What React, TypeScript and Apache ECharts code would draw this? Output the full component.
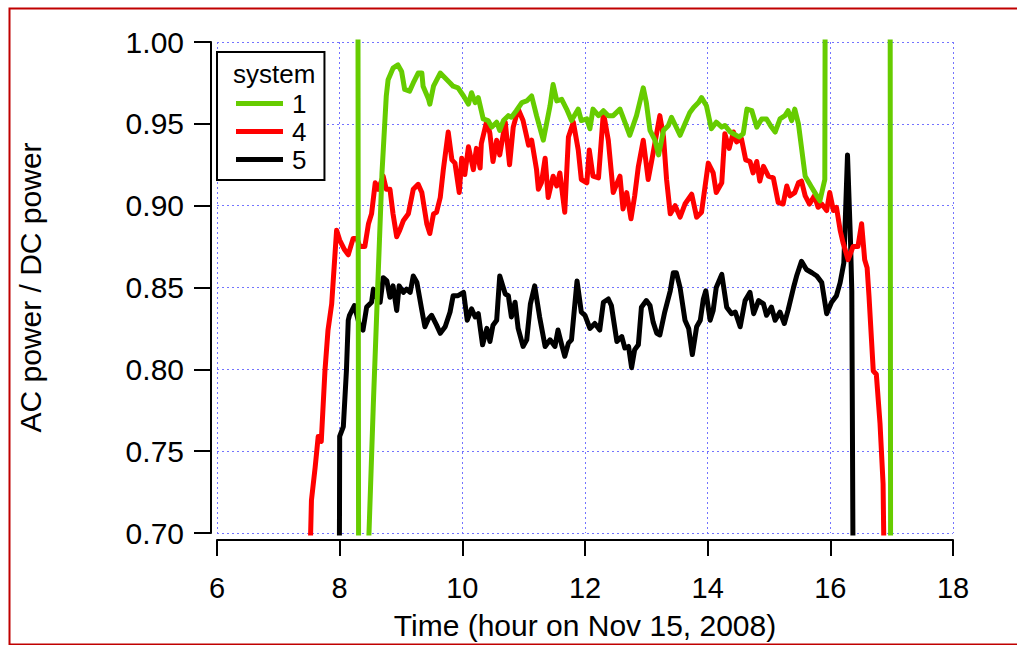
import React, { useEffect, useRef } from "react";
import * as echarts from "echarts";

const xTicks = [6, 8, 10, 12, 14, 16, 18];
const yTicks = [0.7, 0.75, 0.8, 0.85, 0.9, 0.95, 1.0];
const seriesNames = ["1", "4", "5"];
const seriesColors = ["#66cc00", "#ff0000", "#000000"];

// system 1: [hour, AC/DC]
const system1: number[][] = [
  [8.29, 1.3], [8.32, 0.3], [8.46, 0.68], [8.55, 0.78], [8.63, 0.86], [8.69, 0.92], [8.76, 0.967],
  [8.79, 0.977], [8.87, 0.984], [8.95, 0.986], [9.01, 0.982], [9.06, 0.971], [9.14, 0.970],
  [9.20, 0.975], [9.28, 0.981], [9.34, 0.981], [9.36, 0.973], [9.45, 0.965], [9.47, 0.962],
  [9.53, 0.973], [9.64, 0.981], [9.72, 0.978], [9.80, 0.975], [9.85, 0.973], [9.93, 0.972],
  [10.02, 0.967], [10.10, 0.962], [10.15, 0.969], [10.21, 0.963], [10.26, 0.966], [10.34, 0.953],
  [10.42, 0.952], [10.48, 0.948], [10.56, 0.951], [10.61, 0.946], [10.67, 0.952], [10.75, 0.955],
  [10.80, 0.954], [10.88, 0.958], [10.97, 0.963], [11.05, 0.964], [11.13, 0.967], [11.21, 0.955],
  [11.32, 0.940], [11.43, 0.961], [11.48, 0.974], [11.54, 0.964], [11.62, 0.965], [11.70, 0.959],
  [11.78, 0.952], [11.89, 0.959], [11.94, 0.952], [12.03, 0.953], [12.08, 0.947], [12.13, 0.959],
  [12.22, 0.955], [12.30, 0.958], [12.38, 0.955], [12.46, 0.955], [12.57, 0.959], [12.65, 0.951],
  [12.73, 0.943], [12.84, 0.955], [12.95, 0.972], [13.00, 0.963], [13.06, 0.946], [13.14, 0.940],
  [13.20, 0.931], [13.28, 0.946], [13.36, 0.949], [13.41, 0.954], [13.55, 0.943], [13.63, 0.950],
  [13.71, 0.957], [13.77, 0.960], [13.85, 0.963], [13.90, 0.966], [13.98, 0.961], [14.06, 0.947],
  [14.14, 0.951], [14.23, 0.948], [14.28, 0.949], [14.37, 0.945], [14.51, 0.942], [14.58, 0.944],
  [14.64, 0.959], [14.72, 0.958], [14.80, 0.948], [14.88, 0.953], [14.96, 0.953], [15.04, 0.948],
  [15.10, 0.945], [15.18, 0.953], [15.26, 0.955], [15.31, 0.958], [15.37, 0.952], [15.42, 0.959],
  [15.48, 0.950], [15.59, 0.918], [15.70, 0.911], [15.78, 0.906], [15.83, 0.903], [15.91, 0.916],
  [15.93, 1.3], [16.97, 1.3], [16.99, 0.3],
];

// system 4
const system4: number[][] = [
  [7.50, 0.66], [7.54, 0.72], [7.60, 0.74], [7.65, 0.759], [7.70, 0.756], [7.76, 0.799], [7.81, 0.824],
  [7.87, 0.840], [7.90, 0.857], [7.95, 0.885], [8.00, 0.879], [8.08, 0.873], [8.14, 0.870],
  [8.22, 0.880], [8.28, 0.880], [8.33, 0.875], [8.41, 0.875], [8.47, 0.889], [8.52, 0.895],
  [8.58, 0.914], [8.63, 0.910], [8.71, 0.918], [8.76, 0.910], [8.82, 0.910], [8.87, 0.895],
  [8.93, 0.881], [8.98, 0.885], [9.04, 0.891], [9.12, 0.895], [9.20, 0.910], [9.28, 0.913],
  [9.34, 0.908], [9.42, 0.889], [9.47, 0.883], [9.53, 0.895], [9.58, 0.896], [9.64, 0.905],
  [9.69, 0.922], [9.77, 0.945], [9.83, 0.928], [9.88, 0.926], [9.95, 0.908], [9.99, 0.929],
  [10.04, 0.919], [10.10, 0.936], [10.18, 0.922], [10.23, 0.935], [10.29, 0.923], [10.31, 0.938],
  [10.40, 0.952], [10.45, 0.944], [10.50, 0.927], [10.56, 0.940], [10.61, 0.931], [10.70, 0.951],
  [10.77, 0.925], [10.83, 0.948], [10.91, 0.959], [10.99, 0.952], [11.08, 0.937], [11.13, 0.940],
  [11.21, 0.922], [11.24, 0.910], [11.29, 0.914], [11.35, 0.929], [11.40, 0.905], [11.48, 0.918],
  [11.54, 0.912], [11.59, 0.920], [11.67, 0.896], [11.73, 0.942], [11.81, 0.951], [11.89, 0.934],
  [11.94, 0.916], [12.03, 0.914], [12.07, 0.934], [12.13, 0.918], [12.22, 0.917], [12.30, 0.957],
  [12.38, 0.940], [12.46, 0.908], [12.57, 0.918], [12.62, 0.898], [12.68, 0.908], [12.75, 0.892],
  [12.81, 0.906], [12.87, 0.924], [12.95, 0.940], [13.03, 0.916], [13.11, 0.932], [13.22, 0.955],
  [13.28, 0.942], [13.33, 0.916], [13.39, 0.895], [13.47, 0.900], [13.55, 0.893], [13.63, 0.901],
  [13.74, 0.907], [13.82, 0.893], [13.90, 0.896], [14.01, 0.926], [14.09, 0.920], [14.14, 0.908],
  [14.23, 0.914], [14.28, 0.944], [14.35, 0.935], [14.42, 0.945], [14.47, 0.939], [14.55, 0.941],
  [14.62, 0.928], [14.69, 0.927], [14.74, 0.920], [14.80, 0.927], [14.85, 0.915], [14.91, 0.924],
  [14.99, 0.918], [15.07, 0.917], [15.15, 0.902], [15.23, 0.901], [15.29, 0.912], [15.34, 0.906],
  [15.42, 0.908], [15.48, 0.914], [15.53, 0.915], [15.59, 0.906], [15.66, 0.901], [15.74, 0.906],
  [15.80, 0.899], [15.86, 0.901], [15.94, 0.897], [15.99, 0.908], [16.05, 0.897], [16.10, 0.899],
  [16.16, 0.885], [16.21, 0.877], [16.29, 0.867], [16.37, 0.875], [16.45, 0.875], [16.51, 0.889],
  [16.56, 0.867], [16.60, 0.862], [16.63, 0.845], [16.70, 0.799], [16.75, 0.797], [16.81, 0.767],
  [16.86, 0.730], [16.87, 0.70], [16.89, 0.6],
];

// system 5
const system5: number[][] = [
  [7.99, 0.6], [8.00, 0.759], [8.06, 0.765], [8.11, 0.799], [8.14, 0.830], [8.16, 0.833], [8.24, 0.839],
  [8.33, 0.826], [8.38, 0.824], [8.44, 0.838], [8.52, 0.841], [8.55, 0.849], [8.60, 0.844],
  [8.66, 0.841], [8.71, 0.856], [8.77, 0.854], [8.82, 0.844], [8.87, 0.851], [8.93, 0.836],
  [8.97, 0.851], [9.04, 0.847], [9.09, 0.849], [9.15, 0.847], [9.20, 0.857], [9.26, 0.853],
  [9.34, 0.836], [9.39, 0.826], [9.45, 0.831], [9.50, 0.833], [9.58, 0.827], [9.64, 0.822],
  [9.72, 0.826], [9.80, 0.835], [9.85, 0.845], [9.93, 0.845], [10.02, 0.847], [10.08, 0.830],
  [10.15, 0.837], [10.21, 0.832], [10.26, 0.834], [10.33, 0.815], [10.40, 0.825], [10.45, 0.817],
  [10.50, 0.827], [10.56, 0.830], [10.61, 0.857], [10.70, 0.846], [10.75, 0.845], [10.80, 0.832],
  [10.86, 0.841], [10.91, 0.825], [10.99, 0.814], [11.05, 0.818], [11.11, 0.840], [11.18, 0.851],
  [11.26, 0.832], [11.35, 0.814], [11.43, 0.818], [11.51, 0.814], [11.56, 0.824], [11.62, 0.815],
  [11.67, 0.808], [11.73, 0.816], [11.78, 0.818], [11.87, 0.854], [11.94, 0.835], [12.00, 0.833],
  [12.08, 0.825], [12.16, 0.828], [12.24, 0.824], [12.30, 0.841], [12.38, 0.843], [12.43, 0.839],
  [12.52, 0.817], [12.60, 0.820], [12.65, 0.813], [12.71, 0.814], [12.76, 0.801], [12.81, 0.812],
  [12.87, 0.815], [12.92, 0.838], [13.00, 0.842], [13.06, 0.839], [13.11, 0.829], [13.17, 0.822],
  [13.22, 0.821], [13.30, 0.835], [13.39, 0.848], [13.44, 0.859], [13.49, 0.859], [13.55, 0.850],
  [13.63, 0.830], [13.69, 0.825], [13.75, 0.809], [13.82, 0.826], [13.88, 0.830], [13.93, 0.843],
  [13.97, 0.848], [14.04, 0.830], [14.09, 0.836], [14.14, 0.850], [14.23, 0.858], [14.31, 0.838],
  [14.39, 0.834], [14.45, 0.835], [14.53, 0.826], [14.61, 0.842], [14.69, 0.847], [14.75, 0.834],
  [14.83, 0.842], [14.91, 0.840], [14.96, 0.833], [15.04, 0.838], [15.10, 0.830], [15.18, 0.835],
  [15.25, 0.828], [15.31, 0.836], [15.40, 0.850], [15.45, 0.857], [15.53, 0.866], [15.61, 0.861],
  [15.70, 0.859], [15.78, 0.857], [15.86, 0.853], [15.94, 0.834], [16.02, 0.841], [16.10, 0.845],
  [16.16, 0.853], [16.22, 0.865], [16.28, 0.931], [16.33, 0.877], [16.35, 0.848], [16.38, 0.6],
];

const FONT = "'Liberation Sans', Arial, sans-serif";

export default function App() {
  const ref = useRef<HTMLDivElement>(null);
  useEffect(() => {
    if (!ref.current) return;
    const chart = echarts.init(ref.current, undefined, { renderer: "svg" });
    const datasets = [system1, system4, system5];
    chart.setOption({
      animation: false,
      backgroundColor: "#ffffff",
      textStyle: { fontFamily: FONT },
      grid: { left: 217, right: 64, top: 42, bottom: 112, containLabel: false },
      xAxis: {
        type: "value",
        min: xTicks[0],
        max: xTicks[xTicks.length - 1],
        interval: 2,
        offset: 7,
        name: "Time (hour on Nov 15, 2008)",
        nameLocation: "middle",
        nameGap: 70,
        nameTextStyle: { fontSize: 30, color: "#000", fontFamily: FONT },
        axisLine: { show: true, lineStyle: { color: "#000", width: 2 } },
        axisTick: { show: true, inside: false, length: 16, lineStyle: { color: "#000", width: 2 } },
        axisLabel: { fontSize: 29, color: "#000", margin: 33, fontFamily: FONT },
        splitLine: { show: true, lineStyle: { color: "#7373ff", width: 1, type: [2, 3] } },
      },
      yAxis: {
        type: "value",
        min: yTicks[0],
        max: yTicks[yTicks.length - 1],
        interval: 0.05,
        offset: 6,
        name: "AC power / DC power",
        nameLocation: "middle",
        nameRotate: 90,
        nameGap: 166,
        nameTextStyle: { fontSize: 30, color: "#000", fontFamily: FONT },
        axisLine: { show: true, lineStyle: { color: "#000", width: 2 } },
        axisTick: { show: true, inside: false, length: 17, lineStyle: { color: "#000", width: 2 } },
        axisLabel: {
          fontSize: 30,
          color: "#000",
          margin: 27,
          fontFamily: FONT,
          formatter: (v: number) => v.toFixed(2),
        },
        splitLine: { show: true, lineStyle: { color: "#7373ff", width: 1, type: [2, 3] } },
      },
      legend: {
        show: true,
        orient: "vertical",
        left: 217,
        top: 52,
        data: seriesNames,
        icon: "rect",
        itemWidth: 47,
        itemHeight: 5,
        itemGap: 1,
        padding: [38, 18, 7, 19],
        borderColor: "#000",
        borderWidth: 2,
        backgroundColor: "#fff",
        textStyle: { fontSize: 26, color: "#000", lineHeight: 27, fontFamily: FONT, padding: [0, 0, 0, 4] },
      },
      graphic: [
        {
          type: "rect",
          left: 7,
          top: 6,
          shape: { width: 1040, height: 636 },
          style: { fill: "none", stroke: "#c00000", lineWidth: 2 },
          silent: true,
          z: 100,
        },
        {
          type: "text",
          left: 233,
          top: 61,
          style: { text: "system", fontSize: 26, lineHeight: 26, fill: "#000", fontFamily: FONT },
          z: 100,
        },
      ],
      series: datasets.map((d, i) => ({
        name: seriesNames[i],
        type: "line",
        data: d,
        showSymbol: false,
        symbol: "none",
        clip: true,
        lineStyle: { color: seriesColors[i], width: 5, join: "round" },
        itemStyle: { color: seriesColors[i] },
        z: 3 - i,
      })),
    });
    return () => chart.dispose();
  }, []);
  return (
    <div
      ref={ref}
      style={{ position: "fixed", left: 0, top: 0, width: 1017, height: 645, background: "#fff" }}
    />
  );
}
